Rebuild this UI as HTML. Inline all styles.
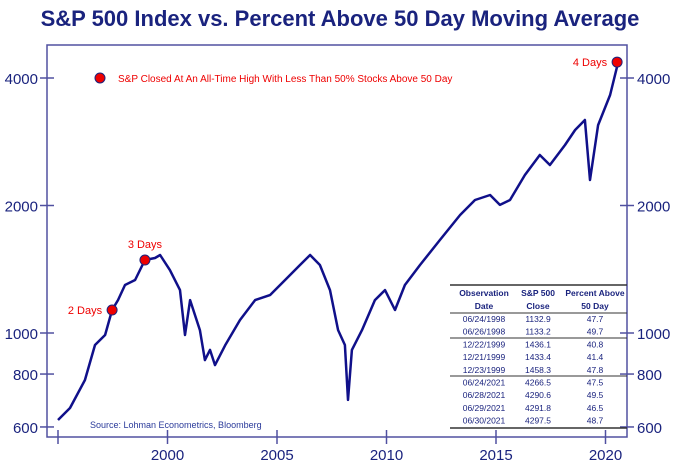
<!DOCTYPE html>
<html><head><meta charset="utf-8"><style>
body{margin:0;background:#fff;}
svg{display:block;font-family:"Liberation Sans",sans-serif;}
</style></head><body>
<svg width="680" height="468" viewBox="0 0 680 468">
<text x="340" y="26" text-anchor="middle" font-size="22" font-weight="bold" fill="#1a237e">S&amp;P 500 Index vs. Percent Above 50 Day Moving Average</text>
<rect x="47" y="45" width="580" height="392" fill="none" stroke="#5050a0" stroke-width="1.5"/>
<g id="axes"></g>
<polyline id="line" fill="none" stroke="#10108a" stroke-width="2.5" stroke-linejoin="round"/>
<g id="marks"></g>
<circle cx="100" cy="78" r="5" fill="#e00" stroke="#1a237e" stroke-width="1"/>
<text x="118" y="82" font-size="10" fill="#e00">S&amp;P Closed At An All-Time High With Less Than 50% Stocks Above 50 Day</text>
<text x="90" y="428" font-size="9" fill="#2a3a9a">Source: Lohman Econometrics, Bloomberg</text>
<g id="table" font-size="8.5" fill="#1a237e"></g>
</svg>
<script>
const years=[1995.0,1995.55,1996.23,1996.69,1997.15,1997.47,1997.74,1998.06,1998.52,1998.97,1999.43,1999.66,2000.11,2000.57,2000.80,2001.03,2001.48,2001.71,2001.94,2002.17,2002.63,2003.31,2004.0,2004.68,2005.37,2006.05,2006.51,2006.96,2007.42,2007.79,2008.1,2008.24,2008.42,2008.88,2009.47,2009.93,2010.39,2010.84,2011.53,2012.44,2013.36,2014.04,2014.73,2015.18,2015.64,2016.32,2017.0,2017.46,2018.15,2018.61,2019.06,2019.29,2019.66,2020.21,2020.58];
const values=[623,665,774,937,989,1133,1196,1298,1334,1487,1503,1528,1408,1263,989,1196,1016,863,912,840,935,1073,1196,1229,1334,1447,1528,1447,1263,1016,937,695,912,1016,1196,1263,1133,1298,1447,1658,1899,2061,2118,2006,2061,2361,2632,2493,2779,3015,3184,2297,3097,3647,4362];
const yTicks=[600,800,1000,2000,4000];
const xTicks=[2000,2005,2010,2015,2020];
const eventYears=[1997.47,1998.97,2020.53];
const eventValues=[1133,1487,4362];
const eventLabels=["2 Days","3 Days","4 Days"];
const tableRows=[["06/24/1998","1132.9","47.7"],["06/26/1998","1133.2","49.7"],["12/22/1999","1436.1","40.8"],["12/21/1999","1433.4","41.4"],["12/23/1999","1458.3","47.8"],["06/24/2021","4266.5","47.5"],["06/28/2021","4290.6","49.5"],["06/29/2021","4291.8","46.5"],["06/30/2021","4297.5","48.7"]];
const X=y=>58+(y-1995)*21.9;
const Y=v=>333-127.5*Math.log2(v/1000);
const NS="http://www.w3.org/2000/svg";
function mk(t,a,p){const e=document.createElementNS(NS,t);for(const k in a)e.setAttribute(k,a[k]);p.appendChild(e);return e;}
const ax=document.getElementById('axes');
yTicks.forEach(v=>{const y=Y(v);
 const l=mk('line',{x1:40,x2:54,y1:y,y2:y,stroke:'#5050a0','stroke-width':1.5},ax);
 
 
 const r=mk('line',{x1:620,x2:634,y1:y,y2:y,stroke:'#5050a0','stroke-width':1.5},ax);
 
 
 const t=mk('text',{x:38,y:y+6,'text-anchor':'end','font-size':15,fill:'#1a237e'},ax);t.textContent=v;
 
 
 const t2=mk('text',{x:637,y:y+6,'font-size':15,fill:'#1a237e'},ax);t2.textContent=v;
 
 
});
[1995].concat(xTicks).forEach(yr=>{const x=X(yr);
 const l=mk('line',{x1:x,x2:x,y1:430,y2:444,stroke:'#5050a0','stroke-width':1.5},ax);
 
 
 if(yr>1995){const t=mk('text',{x:x,y:460,'text-anchor':'middle','font-size':15,fill:'#1a237e'},ax);t.textContent=yr;
 
 }
});
document.getElementById('line').setAttribute('points',years.map((y,i)=>X(y).toFixed(1)+','+Y(values[i]).toFixed(1)).join(' '));
const mg=document.getElementById('marks');
eventYears.forEach((yr,i)=>{const cx=X(yr),cy=Y(eventValues[i]);
 const c=mk('circle',{cx:cx,cy:cy,r:5,fill:'#e00',stroke:'#1a237e','stroke-width':1},mg);
 
 
 const t=mk('text',{x:i==1?cx:cx-10,y:i==1?cy-12:cy+4,'text-anchor':i==1?'middle':'end','font-size':11,fill:'#e00'},mg);t.textContent=eventLabels[i];
 
 
});
const tb=document.getElementById('table');
const cols=[484,538,595];
mk('line',{x1:450,x2:627,y1:285,y2:285,stroke:'#333','stroke-width':1.5},tb);
[["Observation","S&P 500","Percent Above"],["Date","Close","50 Day"]].forEach((r,j)=>r.forEach((s,k)=>{const t=mk('text',{x:cols[k],y:296+j*13,'text-anchor':'middle','font-weight':'bold'},tb);t.textContent=s;}));
mk('line',{x1:450,x2:627,y1:313,y2:313,stroke:'#333','stroke-width':1},tb);
tableRows.forEach((r,i)=>{r.forEach((s,k)=>{const t=mk('text',{x:cols[k],y:322+i*12.7,'text-anchor':'middle'},tb);t.textContent=s;
 
 });});
mk('line',{x1:450,x2:627,y1:338,y2:338,stroke:'#333','stroke-width':1},tb);
mk('line',{x1:450,x2:627,y1:376,y2:376,stroke:'#333','stroke-width':1},tb);
mk('line',{x1:450,x2:627,y1:428,y2:428,stroke:'#333','stroke-width':1.5},tb);
</script>
</body></html>
